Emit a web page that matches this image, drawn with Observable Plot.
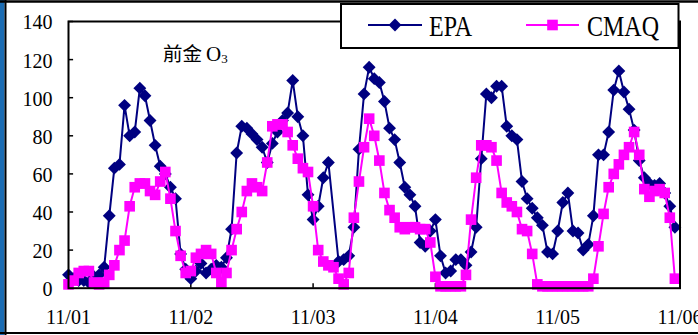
<!DOCTYPE html>
<html><head><meta charset="utf-8">
<script src="https://cdn.jsdelivr.net/npm/d3@7"></script>
<script src="https://cdn.jsdelivr.net/npm/@observablehq/plot@0.6"></script>
<style>
html,body{margin:0;padding:0;background:#fff;}
#wrap{position:relative;width:698px;height:335px;overflow:hidden;background:#fff;}
#wrap svg{position:absolute;left:0;top:0;}
</style></head><body><div id="wrap"></div>
<script>
// ---- data ----
const dayLabels = ["11/01", "11/02", "11/03", "11/04", "11/05", "11/06"];
const dayHours = [0, 24, 48, 72, 96, 120];
const yTicks = [0, 20, 40, 60, 80, 100, 120, 140];
const seriesNames = ["EPA", "CMAQ"];
const seriesColors = ["#000080", "#FF00FF"];
const titleMain = "前金";
const titleSpecies = "O";
const titleSub = "3";

// hourly O3, 11/01 00h .. 11/05 23h
const epa = [
  7, 5, 4, 4, 3, 6, 7, 11, 38, 63, 65, 96, 80, 82, 105, 101, 88, 75, 64, 60, 53, 47, 18, 10,
  5, 9, 13, 8, 10, 12, 11, 16, 31, 71, 85, 84, 81, 78, 74, 66, 76, 82, 88, 92, 109, 90, 80, 49,
  36, 43, 58, 66, null, 14, 15, 17, 32, 73, 102, 116, 110, 108, 98, 84, 78, 66, 53, 49, 43, 24, 22, 30,
  36, 17, 8, 9, 15, 15, 12, 19, 32, 68, 102, 100, 106, 106, 85, 80, 78, 56, 47, 42, 37, 33, 19, 18,
  30, 45, 50, 30, 29, 20, 23, 38, 70, 70, 82, 104, 114, 103, 94, 83, 67, 58, 55, 54, 55, 50, 43, 32
];
const cmaq = [
  2, 4, 8, 9, 9, 3, 2, 3, 7, 12, 20, 25, 43, 53, 55, 55, 51, 49, 56, 61, 47, 30, 17, 8,
  9, 16, 18, 20, 18, 8, 3, 8, 20, 31, 40, 51, 55, 53, 51, 66, 85, 86, 86, 82, 75, 68, 63, 61,
  43, 20, 14, 12, 11, 5, 2, 8, 37, 56, 74, 89, 80, 67, 50, 41, 37, 32, 31, 32, 32, 31, 31, 24,
  6, 1, 1, 1, 1, 1, 7, 36, 58, 75, 75, 74, 67, 50, 45, 43, 40, 31, 30, 18, 2, 1, 1, 1,
  1, 1, 1, 1, 1, 1, 1, 5, 22, 39, 53, 60, 65, 70, 74, 82, 70, 52, 48, 51, 52, 50, 37, 5
];

const epaRows = epa.map((v, h) => ({h, v})).filter(d => d.v != null);
const cmaqRows = cmaq.map((v, h) => ({h, v})).filter(d => d.v != null);

const R_DIAMOND = 5.8, R_SQUARE = 6.0;
const SERIF = "'Liberation Serif', 'Times New Roman', serif";

const chart = Plot.plot({
  width: 698,
  height: 335,
  marginLeft: 68,
  marginRight: 18.5,
  marginTop: 21,
  marginBottom: 47.3,
  style: {background: "transparent", fontFamily: SERIF, color: "#000"},
  x: {domain: [0, 120], label: null},
  y: {domain: [0, 140], label: null},
  marks: [
    Plot.axisY(yTicks, {tickSize: 0, tickPadding: 16, fontSize: 20, dy: 1.5, label: null}),
    Plot.axisX(dayHours, {tickSize: 0, tickPadding: 22, fontSize: 20, label: null,
      tickFormat: d => dayLabels[dayHours.indexOf(d)]}),
    Plot.ruleY(yTicks, {x1: 0, x2: 1, stroke: "#000", strokeWidth: 1.5}),
    Plot.ruleX(dayHours, {y1: 0, y2: 2.4, stroke: "#000", strokeWidth: 1.5}),
    Plot.line(epaRows, {x: "h", y: "v", stroke: seriesColors[0], strokeWidth: 2}),
    Plot.dot(epaRows, {x: "h", y: "v", symbol: "diamond2", r: R_DIAMOND, fill: seriesColors[0], stroke: "none"}),
    Plot.line(cmaqRows, {x: "h", y: "v", stroke: seriesColors[1], strokeWidth: 2}),
    Plot.dot(cmaqRows, {x: "h", y: "v", symbol: "square", r: R_SQUARE, fill: seriesColors[1], stroke: "none"}),
    Plot.frame({stroke: "#000", strokeWidth: 2})
  ]
});
const wrap = document.getElementById("wrap");
wrap.appendChild(chart);

// ---- decorations: outer border, legend, title ----
const svg = d3.select(wrap).append("svg")
  .attr("width", 698).attr("height", 335)
  .style("pointer-events", "none");

svg.append("rect").attr("x", 0).attr("y", 0).attr("width", 4.5).attr("height", 335).attr("fill", "#1b6cb3");
svg.append("line").attr("x1", 5.5).attr("x2", 5.5).attr("y1", 0).attr("y2", 335).attr("stroke", "#000").attr("stroke-width", 2);
svg.append("line").attr("x1", 0).attr("x2", 698).attr("y1", 1.5).attr("y2", 1.5).attr("stroke", "#000").attr("stroke-width", 2.5);
svg.append("line").attr("x1", 0).attr("x2", 698).attr("y1", 333).attr("y2", 333).attr("stroke", "#000").attr("stroke-width", 2);

// legend
const lg = svg.append("g");
lg.append("rect").attr("x", 341).attr("y", 4).attr("width", 337.5).attr("height", 44)
  .attr("fill", "#fff").attr("stroke", "#000").attr("stroke-width", 2);
const legendItems = [
  {name: seriesNames[0], color: seriesColors[0], sym: d3.symbolDiamond2, r: R_DIAMOND, x0: 368, x1: 422, tx: 429},
  {name: seriesNames[1], color: seriesColors[1], sym: d3.symbolSquare, r: R_SQUARE, x0: 526, x1: 579, tx: 587}
];
for (const it of legendItems) {
  lg.append("line").attr("x1", it.x0).attr("x2", it.x1).attr("y1", 25).attr("y2", 25)
    .attr("stroke", it.color).attr("stroke-width", 2);
  lg.append("path").attr("d", d3.symbol(it.sym, Math.PI * it.r * it.r)())
    .attr("transform", `translate(${(it.x0 + it.x1) / 2},25)`).attr("fill", it.color);
  lg.append("text").attr("transform", `translate(${it.tx},36) scale(1,1.25)`)
    .attr("font-family", SERIF).attr("font-size", 24)
    .attr("fill", "#000").text(it.name);
}

// title
const tt = svg.append("text").attr("x", 163).attr("y", 60.5).attr("fill", "#000");
tt.append("tspan").attr("font-family", "'Noto Sans CJK TC', 'Noto Sans CJK SC', sans-serif")
  .attr("font-size", 19.5).text(titleMain);
tt.append("tspan").attr("font-family", SERIF).attr("font-size", 21).attr("dx", 4).text(titleSpecies);
tt.append("tspan").attr("font-family", SERIF).attr("font-size", 13).attr("dy", 2.5).text(titleSub);
</script>
</body></html>
